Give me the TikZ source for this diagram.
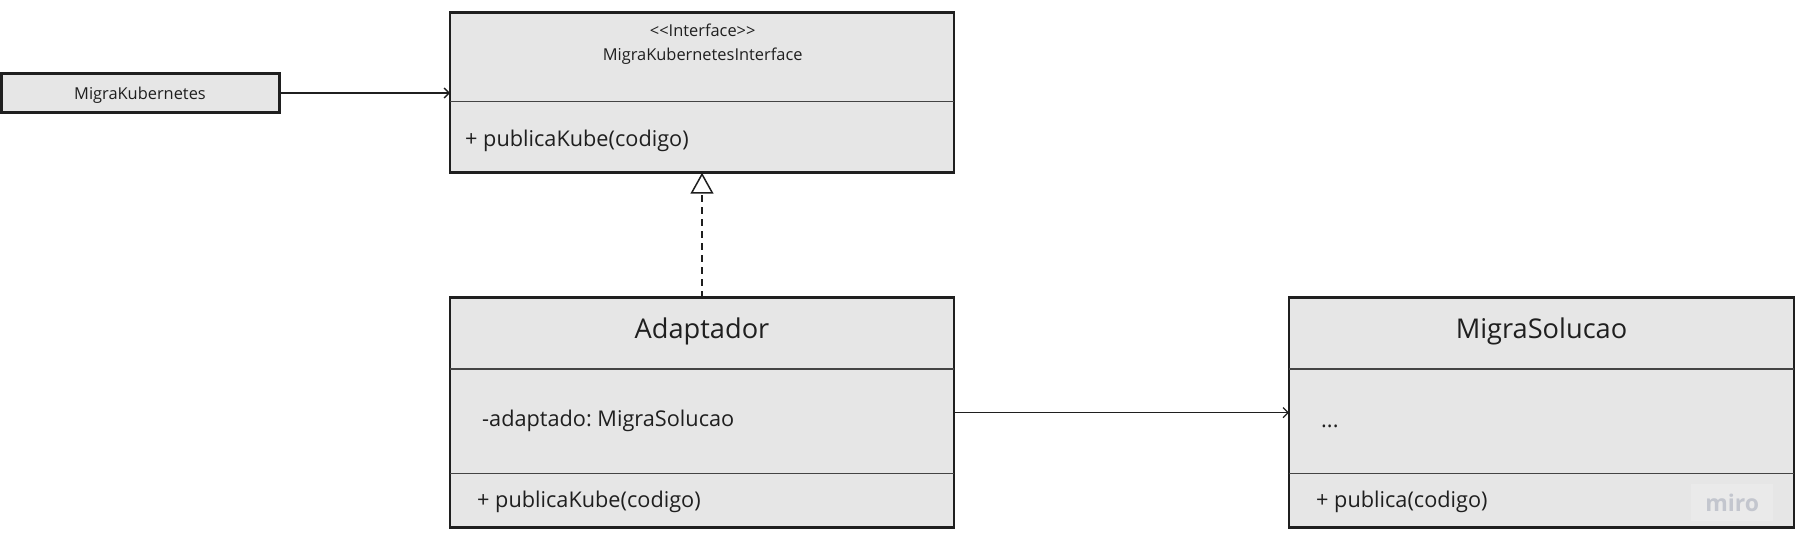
\documentclass[tikz,border=0pt]{standalone}
\usepackage{fontspec}
\setmainfont{Open Sans}
\usetikzlibrary{arrows.meta}
\frenchspacing
\definecolor{boxfill}{HTML}{E6E6E6}
\definecolor{ink}{HTML}{1F1F1F}
\definecolor{divc}{HTML}{444444}
\definecolor{mirotxt}{HTML}{C3C6CE}
\definecolor{mirobg}{HTML}{EAEAEA}
\tikzset{
  umlbox/.style={draw=ink, line width=2.6pt, fill=boxfill, inner sep=0pt, outer sep=0pt, anchor=north west},
  divider/.style={draw=divc, line width=1.4pt},
  conn/.style={draw=ink, line width=1.3pt, -{Straight Barb[length=5pt,width=10pt]}},
  realize/.style={draw=ink, line width=1.5pt, dash pattern=on 7pt off 5pt, -{Triangle[open,length=21pt,width=23pt,fill=white,line width=1.5pt]}},
  small/.style={text=ink, font=\fontsize{16.4}{20}\selectfont, inner sep=0pt},
  mid/.style={text=ink, font=\fontsize{21.7}{26}\selectfont, inner sep=0pt},
  big/.style={text=ink, font=\fontsize{27.2}{33}\selectfont, inner sep=0pt},
}
\begin{document}
\begin{tikzpicture}[x=1pt,y=-1pt]
\useasboundingbox (0,0) rectangle (1802,554);
% boxes
\node[umlbox, minimum width=278pt, minimum height=39pt] (mk) at (1.5,73.5) {};
\node[umlbox, minimum width=504pt, minimum height=160pt] (iface) at (450,12.7) {};
\node[umlbox, minimum width=504pt, minimum height=230pt] (adapt) at (450,297.6) {};
\node[umlbox, minimum width=505pt, minimum height=230pt] (sol) at (1289,297.6) {};
% dividers
\draw[divider] (iface.west |- 0,101.7) -- (iface.east |- 0,101.7);
\draw[divider] (adapt.west |- 0,369) -- (adapt.east |- 0,369);
\draw[divider] (adapt.west |- 0,473.5) -- (adapt.east |- 0,473.5);
\draw[divider] (sol.west |- 0,369) -- (sol.east |- 0,369);
\draw[divider] (sol.west |- 0,473.5) -- (sol.east |- 0,473.5);
% texts
\node[small, anchor=base] (mkt) at (140,99) {MigraKubernetes};
\node[small, anchor=base] (ster) at (702.7,36.7) {{<}{<}Interface{>}{>}};
\node[small, anchor=base] (ifn) at (702.7,60) {MigraKubernetesInterface};
\node[mid, anchor=base west] (ifm) at (465,146.7) {+ publicaKube(codigo)};
\node[big, anchor=base] (adt) at (702,338) {Adaptador};
\node[mid, anchor=base west] (ada) at (482,426.7) {-adaptado: MigraSolucao};
\node[mid, anchor=base west] (adm) at (477,507.5) {+ publicaKube(codigo)};
\node[big, anchor=base] (solt) at (1541.5,338) {MigraSolucao};
\node[mid, anchor=base west] (sola) at (1321,427) {...};
\node[mid, anchor=base west] (solm) at (1316,507.5) {+ publica(codigo)};
% miro watermark
\node[fill=mirobg, minimum width=82pt, minimum height=37pt, inner sep=0pt, anchor=north west] (mirobox) at (1691,484) {};
\node[text=mirotxt, font=\fontsize{23}{28}\selectfont\bfseries, inner sep=0pt] (miro) at (mirobox.center) {miro};
% connectors
\draw[conn] (mk.east) -- (mk.east -| iface.west);
\draw[conn] (adapt.east) -- (adapt.east -| sol.west);
\draw[realize] (adapt.north) -- (iface.south);
\end{tikzpicture}
\end{document}
